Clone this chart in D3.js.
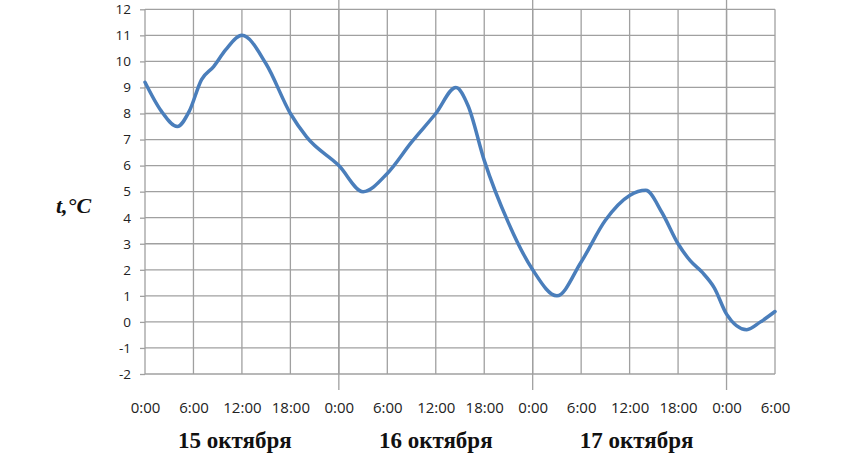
<!DOCTYPE html>
<html>
<head>
<meta charset="utf-8">
<script src="https://cdn.jsdelivr.net/npm/d3@7"></script>
<style>
  html, body { margin: 0; padding: 0; background: #fff; }
  svg { display: block; }
</style>
</head>
<body>
<svg id="chart" width="861" height="454"></svg>
<script>
// ---- data ----
const hours = [0, 2, 4, 5.5, 7, 8.5, 10, 12, 15, 18, 20, 24, 27, 30, 33, 36, 38.5, 40, 42, 45, 48, 51, 54, 57, 60, 62, 64, 66, 67.5, 69, 70.5, 72, 74.5, 76.2, 78];
const temps = [9.2, 8.1, 7.5, 8.1, 9.3, 9.8, 10.45, 11.0, 9.9, 8.0, 7.1, 6.0, 5.0, 5.7, 6.9, 8.0, 9.0, 8.3, 6.2, 3.8, 2.0, 1.0, 2.3, 3.9, 4.85, 5.05, 4.2, 3.0, 2.35, 1.9, 1.3, 0.3, -0.3, 0.0, 0.4];
const xTickHours = [0, 6, 12, 18, 24, 30, 36, 42, 48, 54, 60, 66, 72, 78];
const yTicks = [-2, -1, 0, 1, 2, 3, 4, 5, 6, 7, 8, 9, 10, 11, 12];
const dayLabels = ["15 октября", "16 октября", "17 октября"];
const dayBoundaries = [24, 48, 72];

// ---- layout ----
const svg = d3.select("#chart");
const x = d3.scaleLinear().domain([0, 78]).range([145, 775]);
const y = d3.scaleLinear().domain([-2, 12]).range([374, 9.3]);
const gridColor = "#a0a0a0";
const sansFont = "'Open Sans', 'Liberation Sans', sans-serif";
const serifFont = "'Liberation Serif', 'DejaVu Serif', serif";

// horizontal grid
svg.append("g").selectAll("line").data(yTicks).join("line")
  .attr("x1", x(0)).attr("x2", x(78))
  .attr("y1", d => y(d)).attr("y2", d => y(d))
  .attr("stroke", gridColor).attr("stroke-width", 1.3);

// vertical grid
svg.append("g").selectAll("line").data(xTickHours).join("line")
  .attr("x1", d => x(d)).attr("x2", d => x(d))
  .attr("y1", y(12)).attr("y2", y(-2))
  .attr("stroke", gridColor).attr("stroke-width", 1.3);

// day boundary lines extending beyond the plot
svg.append("g").selectAll("line").data(dayBoundaries).join("line")
  .attr("x1", d => x(d)).attr("x2", d => x(d))
  .attr("y1", 0).attr("y2", 390)
  .attr("stroke", gridColor).attr("stroke-width", 1.3);

// y axis
const yAxis = d3.axisLeft(y).tickValues(yTicks).tickSize(5).tickPadding(9).tickFormat(d => d);
const gy = svg.append("g").attr("transform", `translate(${x(0)},0)`).call(yAxis);
gy.select(".domain").remove();
gy.selectAll(".tick line").attr("stroke", gridColor).attr("stroke-width", 1.3);
gy.selectAll(".tick text").attr("font-family", sansFont).attr("font-size", 13.5).attr("fill", "#222");

// x axis labels
const xAxis = d3.axisBottom(x).tickValues(xTickHours).tickSize(0).tickPadding(0)
  .tickFormat(d => (d % 24) + ":00");
const gx = svg.append("g").attr("transform", `translate(0,${y(-2)})`).call(xAxis);
gx.select(".domain").remove();
gx.selectAll(".tick text").attr("font-family", sansFont).attr("font-size", 15)
  .attr("fill", "#222").attr("dy", null).attr("y", 39);

// day labels
svg.append("g").selectAll("text").data(dayLabels).join("text")
  .attr("x", (d, i) => x(12 + 24 * i) + (i - 1) * 7)
  .attr("y", 448)
  .attr("text-anchor", "middle")
  .attr("font-family", serifFont).attr("font-weight", "bold").attr("font-size", 23)
  .attr("fill", "#111")
  .text(d => d);

// y label
svg.append("text").attr("x", 56).attr("y", 213)
  .attr("font-family", serifFont).attr("font-weight", "bold").attr("font-style", "italic")
  .attr("font-size", 22).attr("fill", "#111")
  .text("t,°C");

// line
const pts = hours.map((h, i) => [h, temps[i]]);
const line = d3.line().x(d => x(d[0])).y(d => y(d[1])).curve(d3.curveMonotoneX);
svg.append("path").datum(pts)
  .attr("d", line)
  .attr("fill", "none")
  .attr("stroke", "#4a7ebb")
  .attr("stroke-width", 3.5)
  .attr("stroke-linejoin", "round")
  .attr("stroke-linecap", "round");
</script>
</body>
</html>
